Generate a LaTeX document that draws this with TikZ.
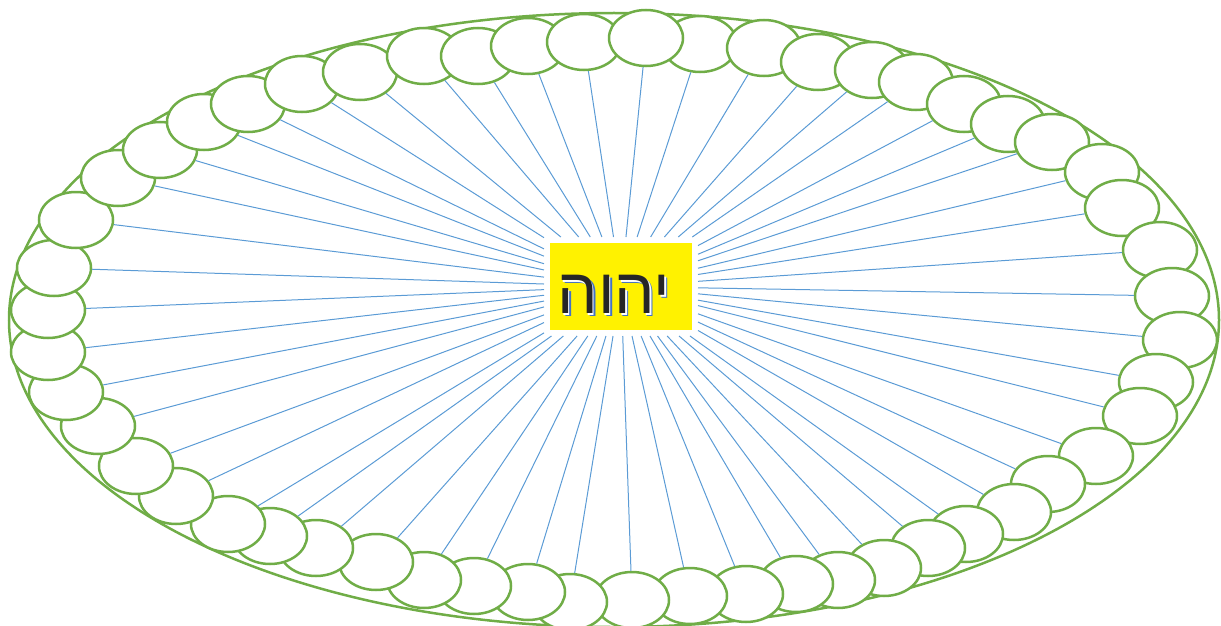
\documentclass[tikz,border=0pt]{standalone}
\usepackage{fontspec}
\newfontfamily\hebrewfont[Script=Hebrew]{Liberation Sans}
\TeXXeTstate=1
\usetikzlibrary{shapes.geometric}
\definecolor{beadgreen}{HTML}{70AD47}
\definecolor{rayblue}{HTML}{5B9BD5}
\definecolor{shadowblue}{HTML}{4472C4}
\definecolor{inkgray}{HTML}{262626}
\newcommand{\holyname}[1]{{\color{#1}\beginR יהוה\endR}}
\newcommand{\shadowname}{%
  \makebox[0pt][l]{\hspace{3pt}\raisebox{-3pt}{\holyname{shadowblue}}}%
  \makebox[0pt][l]{\hspace{1.5pt}\raisebox{-1.5pt}{\holyname{white}}}%
  \holyname{inkgray}}
\tikzset{
    rim/.style     = {draw=beadgreen, line width=2.5pt},
    bead/.style    = {ellipse, draw=beadgreen, line width=2.5pt, fill=white,
                      minimum width=74pt, minimum height=56pt, inner sep=0pt},
    ray/.style     = {draw=rayblue, line width=1pt},
    hubbox/.style  = {rectangle, fill=yellow, minimum width=142pt, minimum height=87pt,
                      inner sep=0pt, outer sep=6pt},
    wordtext/.style = {inner sep=0pt, font=\hebrewfont\fontsize{64}{66}\selectfont}
}
\begin{document}
\begin{tikzpicture}[x=1pt, y=-1pt]
    \useasboundingbox (0,0) rectangle (1221,626);

    % Outer ring
    \draw[rim] (614,320) ellipse [x radius=605pt, y radius=307pt];

    % Beads, right half (top to bottom)
    \node[bead] (b1)  at (700,44)  {};
    \node[bead] (b2)  at (764,48)  {};
    \node[bead] (b3)  at (818,62)  {};
    \node[bead] (b4)  at (872,70)  {};
    \node[bead] (b5)  at (916,82)  {};
    \node[bead] (b6)  at (964,104) {};
    \node[bead] (b7)  at (1008,124) {};
    \node[bead] (b8)  at (1052,142) {};
    \node[bead] (b9)  at (1102,172) {};
    \node[bead] (b10) at (1122,208) {};
    \node[bead] (b11) at (1160,250) {};
    \node[bead] (b12) at (1172,296) {};
    \node[bead] (b13) at (1180,340) {};
    \node[bead] (b14) at (1156,382) {};
    \node[bead] (b15) at (1140,416) {};
    \node[bead] (b16) at (1096,456) {};
    \node[bead] (b17) at (1048,484) {};
    \node[bead] (b18) at (1014,512) {};
    \node[bead] (b19) at (966,534) {};
    \node[bead] (b20) at (928,548) {};
    \node[bead] (b21) at (884,568) {};
    \node[bead] (b22) at (838,580) {};
    \node[bead] (b23) at (796,584) {};
    \node[bead] (b24) at (746,594) {};
    \node[bead] (b25) at (690,596) {};
    \node[bead] (b26) at (632,600) {};

    % Beads, left half (bottom to top)
    \node[bead] (b27) at (570,602) {};
    \node[bead] (b28) at (528,592) {};
    \node[bead] (b29) at (474,586) {};
    \node[bead] (b30) at (424,580) {};
    \node[bead] (b31) at (376,562) {};
    \node[bead] (b32) at (316,548) {};
    \node[bead] (b33) at (270,536) {};
    \node[bead] (b34) at (228,524) {};
    \node[bead] (b35) at (176,496) {};
    \node[bead] (b36) at (136,466) {};
    \node[bead] (b37) at (98,426)  {};
    \node[bead] (b38) at (66,392)  {};
    \node[bead] (b39) at (48,352)  {};
    \node[bead] (b40) at (48,310)  {};
    \node[bead] (b41) at (54,268)  {};
    \node[bead] (b42) at (76,220)  {};
    \node[bead] (b43) at (118,178) {};
    \node[bead] (b44) at (160,150) {};
    \node[bead] (b45) at (204,122) {};
    \node[bead] (b46) at (248,104) {};
    \node[bead] (b47) at (302,84)  {};
    \node[bead] (b48) at (360,72)  {};
    \node[bead] (b49) at (424,56)  {};
    \node[bead] (b50) at (478,56)  {};
    \node[bead] (b51) at (528,46)  {};
    \node[bead] (b52) at (584,42)  {};
    \node[bead] (b53) at (646,38)  {};

    % Center box
    \node[hubbox] (hub) at (621,286.5) {};
    \node[wordtext] (word) at (614,296) {\shadowname};

    % Spokes
    \foreach \i in {1,...,53}
        \draw[ray] (hub) -- (b\i);

\end{tikzpicture}
\end{document}
